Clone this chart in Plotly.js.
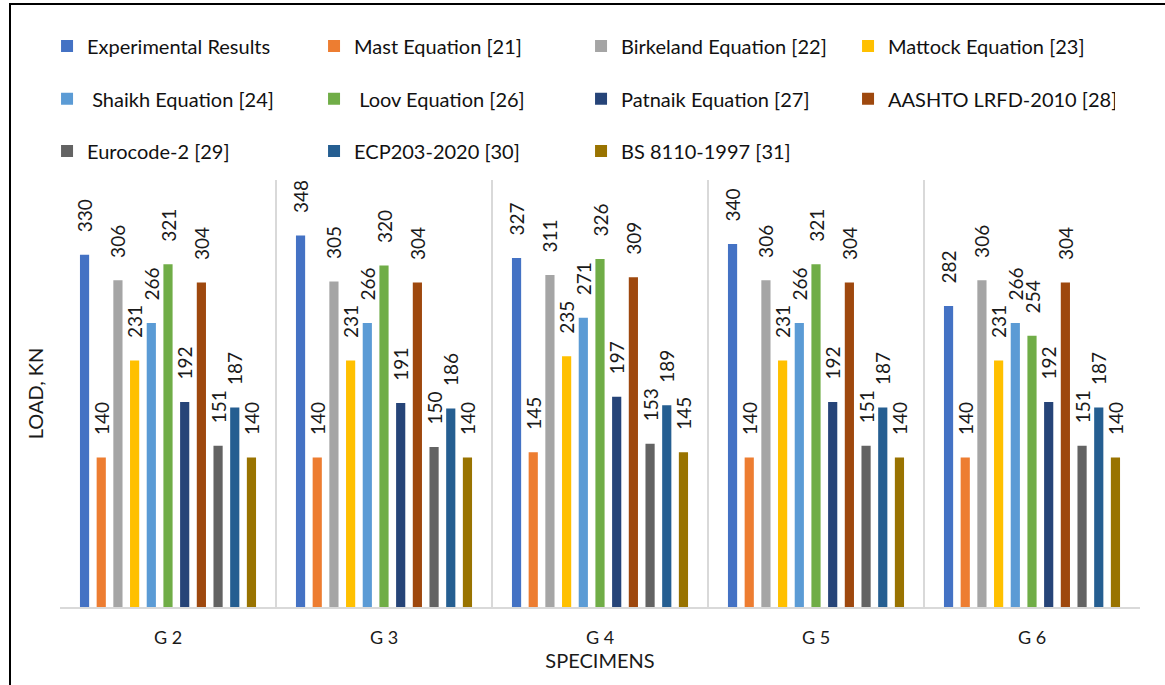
<!DOCTYPE html>
<html>
<head>
<meta charset="utf-8">
<script src="https://cdn.plot.ly/plotly-3.0.1.min.js"></script>
<style>
  html, body { margin: 0; padding: 0; background: #fff; }
  #chart { width: 1165px; height: 685px; position: absolute; left: 0; top: 0; }
  #frame { position: absolute; left: 9px; top: 3px; width: 1200px; height: 720px;
           border-left: 2px solid #000; border-top: 2px solid #000; pointer-events: none; }
</style>
</head>
<body>
<div id="chart"></div>
<div id="frame"></div>
<script>
const categories = ["G 2", "G 3", "G 4", "G 5", "G 6"];

const seriesNames = [
  "Experimental Results", "Mast Equation [21]", "Birkeland Equation [22]", "Mattock Equation [23]",
  " Shaikh Equation [24]", " Loov Equation [26]", "Patnaik Equation [27]", "AASHTO LRFD-2010 [28]",
  "Eurocode-2 [29]", "ECP203-2020 [30]", "BS 8110-1997 [31]"
];

const experimental = [330, 348, 327, 340, 282];
const mast         = [140, 140, 145, 140, 140];
const birkeland    = [306, 305, 311, 306, 306];
const mattock      = [231, 231, 235, 231, 231];
const shaikh       = [266, 266, 271, 266, 266];
const loov         = [321, 320, 326, 321, 254];
const patnaik      = [192, 191, 197, 192, 192];
const aashto       = [304, 304, 309, 304, 304];
const eurocode     = [151, 150, 153, 151, 151];
const ecp          = [187, 186, 189, 187, 187];
const bs8110       = [140, 140, 145, 140, 140];

const seriesValues = [experimental, mast, birkeland, mattock, shaikh, loov, patnaik, aashto, eurocode, ecp, bs8110];

const colors = ["#4472C4", "#ED7D31", "#A5A5A5", "#FFC000", "#5B9BD5", "#70AD47",
                "#264478", "#9E480E", "#636363", "#255E91", "#997300"];

const legendOf = [ "legend", "legend", "legend", "legend",
                   "legend2", "legend2", "legend2", "legend2",
                   "legend3", "legend3", "legend3" ];

const FONT = "Lato, 'Open Sans', sans-serif";

const traces = seriesNames.map((name, i) => ({
  type: "bar",
  name: name,
  x: categories,
  y: seriesValues[i],
  marker: { color: colors[i] },
  text: seriesValues[i].map(String),
  texttemplate: "\u00a0\u00a0\u00a0\u00a0%{text}",
  textposition: "outside",
  textangle: -90,
  constraintext: "none",
  cliponaxis: false,
  textfont: { family: FONT, size: 19, color: "#1a1a1a" },
  legend: legendOf[i],
  hoverinfo: "x+y+name"
}));

function legendAt(y) {
  return {
    orientation: "h",
    x: -0.012, xanchor: "left",
    y: y, yanchor: "middle",
    entrywidth: 222, entrywidthmode: "pixels",
    font: { family: FONT, size: 20, color: "#111" },
    bgcolor: "rgba(0,0,0,0)",
    traceorder: "normal"
  };
}

const layout = {
  width: 1165, height: 685,
  margin: { l: 60, r: 25, t: 180, b: 78 },
  paper_bgcolor: "#fff", plot_bgcolor: "#fff",
  barmode: "group",
  bargap: 0.15,
  bargroupgap: 0.45,
  showlegend: true,
  legend: legendAt(1.314),
  legend2: legendAt(1.190),
  legend3: legendAt(1.068),
  xaxis: {
    type: "category",
    tickson: "boundaries",
    showgrid: true, gridcolor: "#d9d9d9", gridwidth: 1.5,
    showline: true, linecolor: "#d9d9d9", linewidth: 1.5,
    ticks: "", zeroline: false,
    ticklabelstandoff: 14,
    tickfont: { family: FONT, size: 18, color: "#1a1a1a" },
    title: { text: "SPECIMENS", font: { family: FONT, size: 20, color: "#1a1a1a" }, standoff: 6 },
    range: [-0.5, 4.5],
    fixedrange: true
  },
  yaxis: {
    range: [0, 400],
    showticklabels: false, showgrid: false, zeroline: false, showline: false, ticks: "",
    title: { text: "LOAD, KN", font: { family: FONT, size: 20, color: "#1a1a1a" }, standoff: 10 },
    fixedrange: true
  }
};

Plotly.newPlot("chart", traces, layout, { displayModeBar: false, staticPlot: true });
</script>
</body>
</html>
